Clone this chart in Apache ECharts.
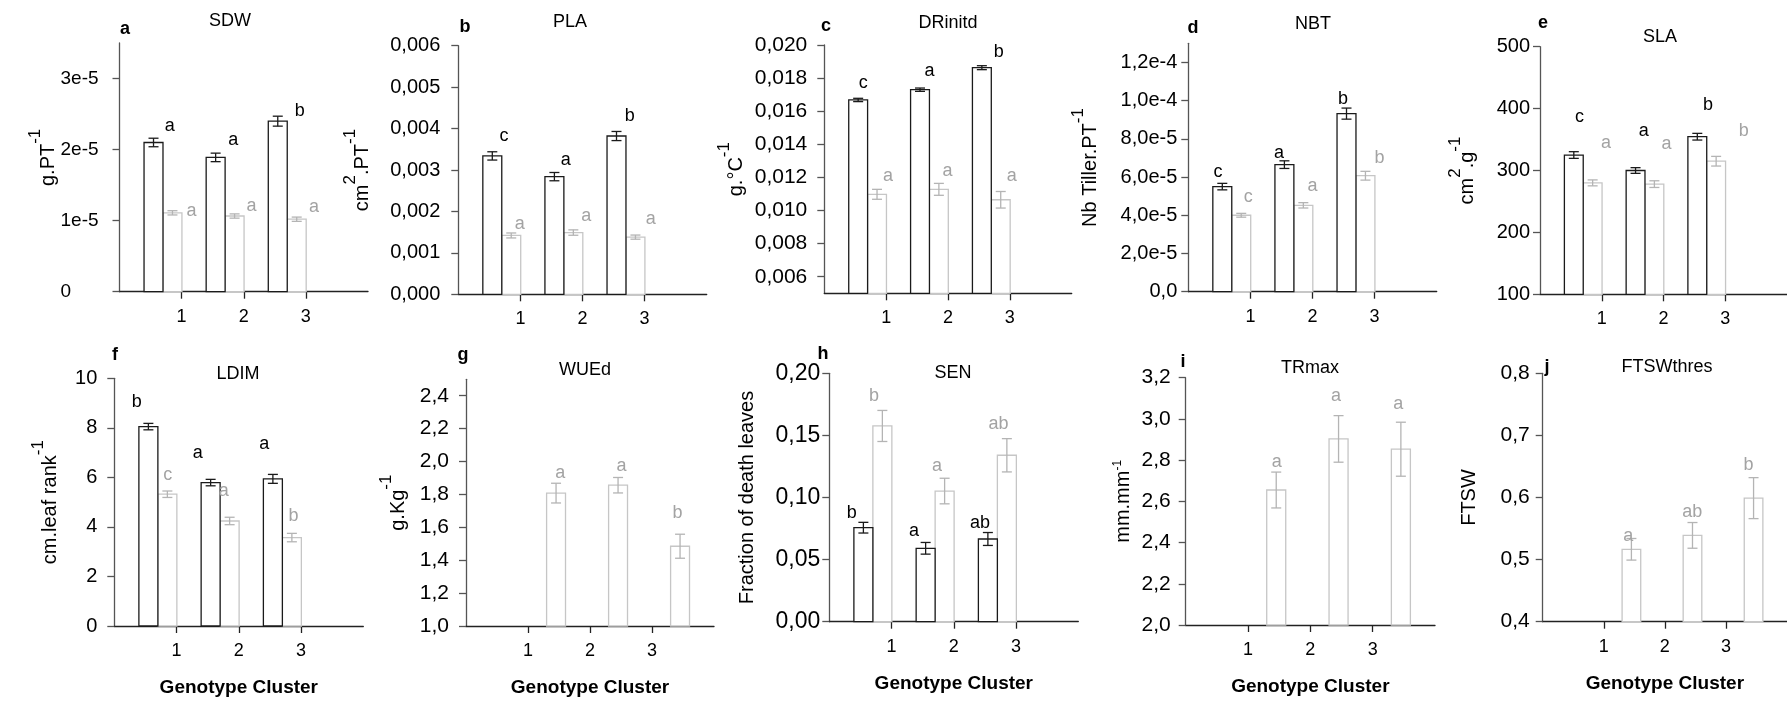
<!DOCTYPE html>
<html>
<head>
<meta charset="utf-8">
<script src="https://cdn.jsdelivr.net/npm/echarts@6/dist/echarts.min.js"></script>
<style>
  html, body { margin: 0; padding: 0; background: #fff; }
  #chart { width: 1787px; height: 702px; }
</style>
</head>
<body>
<div id="chart"></div>
<script>
// ---- Genotype clusters (x axis) ----
const clusters = [1, 2, 3];
const clusterLabels = ['1', '2', '3'];

// ---- a: SDW ----
const sdwDark = [2.10e-5, 1.89e-5, 2.40e-5];
const sdwDarkErr = [0.06e-5, 0.06e-5, 0.07e-5];
const sdwLight = [1.11e-5, 1.065e-5, 1.02e-5];
const sdwLightErr = [0.03e-5, 0.03e-5, 0.03e-5];
const sdwDarkLetters = ['a', 'a', 'b'];
const sdwLightLetters = ['a', 'a', 'a'];
const sdwTicks = [0, 1e-5, 2e-5, 3e-5];
const sdwTickLabels = ['0', '1e-5', '2e-5', '3e-5'];

// ---- b: PLA ----
const plaDark = [0.00334, 0.00284, 0.00382];
const plaDarkErr = [0.0001, 0.0001, 0.00011];
const plaLight = [0.00142, 0.00149, 0.00138];
const plaLightErr = [0.00006, 0.000065, 0.00005];
const plaDarkLetters = ['c', 'a', 'b'];
const plaLightLetters = ['a', 'a', 'a'];
const plaTicks = [0, 0.001, 0.002, 0.003, 0.004, 0.005, 0.006];
const plaTickLabels = ['0,000', '0,001', '0,002', '0,003', '0,004', '0,005', '0,006'];

// ---- c: DRinitd ----
const drDark = [0.01668, 0.0173, 0.01863];
const drDarkErr = [0.0001, 0.0001, 0.00012];
const drLight = [0.01098, 0.01128, 0.01065];
const drLightErr = [0.0003, 0.00036, 0.0005];
const drDarkLetters = ['c', 'a', 'b'];
const drLightLetters = ['a', 'a', 'a'];
const drTicks = [0.006, 0.008, 0.010, 0.012, 0.014, 0.016, 0.018, 0.020];
const drTickLabels = ['0,006', '0,008', '0,010', '0,012', '0,014', '0,016', '0,018', '0,020'];

// ---- d: NBT ----
const nbtDark = [5.5e-5, 6.65e-5, 9.32e-5];
const nbtDarkErr = [0.17e-5, 0.2e-5, 0.29e-5];
const nbtLight = [4.0e-5, 4.52e-5, 6.07e-5];
const nbtLightErr = [0.1e-5, 0.14e-5, 0.23e-5];
const nbtDarkLetters = ['c', 'a', 'b'];
const nbtLightLetters = ['c', 'a', 'b'];
const nbtTicks = [0, 2e-5, 4e-5, 6e-5, 8e-5, 1e-4, 1.2e-4];
const nbtTickLabels = ['0,0', '2,0e-5', '4,0e-5', '6,0e-5', '8,0e-5', '1,0e-4', '1,2e-4'];

// ---- e: SLA ----
const slaDark = [325, 300, 354.6];
const slaDarkErr = [5.4, 4.6, 5.4];
const slaLight = [280, 278, 315];
const slaLightErr = [4.8, 5.4, 7.8];
const slaDarkLetters = ['c', 'a', 'b'];
const slaLightLetters = ['a', 'a', 'b'];
const slaTicks = [100, 200, 300, 400, 500];
const slaTickLabels = ['100', '200', '300', '400', '500'];

// ---- f: LDIM ----
const ldimDark = [8.05, 5.79, 5.94];
const ldimDarkErr = [0.13, 0.13, 0.18];
const ldimLight = [5.32, 4.24, 3.57];
const ldimLightErr = [0.13, 0.15, 0.17];
const ldimDarkLetters = ['b', 'a', 'a'];
const ldimLightLetters = ['c', 'a', 'b'];
const ldimTicks = [0, 2, 4, 6, 8, 10];
const ldimTickLabels = ['0', '2', '4', '6', '8', '10'];

// ---- g: WUEd ----
const wueLight = [1.808, 1.856, 1.485];
const wueLightErr = [0.06, 0.047, 0.073];
const wueLightLetters = ['a', 'a', 'b'];
const wueTicks = [1.0, 1.2, 1.4, 1.6, 1.8, 2.0, 2.2, 2.4];
const wueTickLabels = ['1,0', '1,2', '1,4', '1,6', '1,8', '2,0', '2,2', '2,4'];

// ---- h: SEN ----
const senDark = [0.0757, 0.0591, 0.0666];
const senDarkErr = [0.0043, 0.0047, 0.0052];
const senLight = [0.1576, 0.1052, 0.134];
const senLightErr = [0.0125, 0.0103, 0.0134];
const senDarkLetters = ['b', 'a', 'ab'];
const senLightLetters = ['b', 'a', 'ab'];
const senTicks = [0, 0.05, 0.10, 0.15, 0.20];
const senTickLabels = ['0,00', '0,05', '0,10', '0,15', '0,20'];

// ---- i: TRmax ----
const trLight = [2.655, 2.903, 2.853];
const trLightErr = [0.087, 0.113, 0.131];
const trLightLetters = ['a', 'a', 'a'];
const trTicks = [2.0, 2.2, 2.4, 2.6, 2.8, 3.0, 3.2];
const trTickLabels = ['2,0', '2,2', '2,4', '2,6', '2,8', '3,0', '3,2'];

// ---- j: FTSWthres ----
const ftswLight = [0.5166, 0.539, 0.599];
const ftswLightErr = [0.0174, 0.0207, 0.033];
const ftswLightLetters = ['a', 'ab', 'b'];
const ftswTicks = [0.4, 0.5, 0.6, 0.7, 0.8];
const ftswTickLabels = ['0,4', '0,5', '0,6', '0,7', '0,8'];

// ---- annotation anchors for significance letters, [x, y] in axis units ----
const sdwDarkLetterAt = [[0.81, 2.33e-5], [1.83, 2.13e-5], [2.90, 2.54e-5]];
const sdwLightLetterAt = [[1.16, 1.14e-5], [2.125, 1.21e-5], [3.13, 1.195e-5]];
const plaDarkLetterAt = [[0.735, 0.00381], [1.73, 0.00324], [2.76, 0.00431]];
const plaLightLetterAt = [[0.99, 0.0017], [2.06, 0.00189], [3.10, 0.00182]];
const drDarkLetterAt = [[0.63, 0.01772], [1.70, 0.01843], [2.82, 0.0196]];
const drLightLetterAt = [[1.03, 0.0121], [1.99, 0.0124], [3.03, 0.0121]];
const nbtDarkLetterAt = [[0.48, 6.28e-5], [1.46, 7.25e-5], [2.49, 10.07e-5]];
const nbtLightLetterAt = [[0.965, 4.97e-5], [2.0, 5.53e-5], [3.08, 6.98e-5]];
const slaDarkLetterAt = [[0.64, 387], [1.68, 364], [2.72, 406]];
const slaLightLetterAt = [[1.07, 345], [2.05, 343], [3.30, 364]];
const ldimDarkLetterAt = [[0.36, 9.06], [1.34, 7.0], [2.41, 7.35]];
const ldimLightLetterAt = [[0.86, 6.1], [1.76, 5.43], [2.88, 4.44]];
const wueLightLetterAt = [[1.52, 1.93], [2.51, 1.97], [3.41, 1.685]];
const senDarkLetterAt = [[0.36, 0.0878], [1.36, 0.0733], [2.42, 0.0792]];
const senLightLetterAt = [[0.72, 0.1817], [1.73, 0.1254], [2.72, 0.159]];
const trLightLetterAt = [[1.46, 2.79], [2.41, 3.11], [3.41, 3.07]];
const ftswLightLetterAt = [[1.40, 0.538], [2.45, 0.576], [3.37, 0.652]];

// ---- styling ----
const FONT = '"Liberation Sans", Arial, Helvetica, sans-serif';
const DARK = '#1a1a1a';
const LIGHT_BAR = '#c6c6c6';
const LIGHT_ERR = '#b4b4b4';
const LIGHT_TEXT = '#a3a3a3';
const Y_AXIS = '#555';
const X_AXIS = '#222';

// Bar extents relative to each cluster tick, in axis units
const PAIR_DARK = [-0.605, -0.3];
const PAIR_LIGHT = [-0.3, 0.005];
const SINGLE_LIGHT = [0.30, 0.605];

// Axis-title rich text: m = main run, s = raised exponent, t = small raised exponent
const supRich = {
  m: { fontSize: 20, fontFamily: FONT, color: '#000', verticalAlign: 'bottom' },
  s: { fontSize: 17, fontFamily: FONT, color: '#000', verticalAlign: 'top', padding: [0, 0, 14, 0] },
  t: { fontSize: 12, fontFamily: FONT, color: '#000', verticalAlign: 'top', padding: [0, 0, 10, 0] }
};

const panels = [
  { tag: 'a', title: 'SDW', yName: '{m|g.PT}{s|-1}', nameGap: 77, nameShift: 20,
    grid: { left: 119.5, top: 43, width: 248.5, height: 248.7 }, yMin: 0, yMax: 3.5e-5,
    labelMargin: 59, labelAlign: 'left', labelSize: 19,
    ticks: sdwTicks, tickLabels: sdwTickLabels,
    dark: sdwDark, darkErr: sdwDarkErr, light: sdwLight, lightErr: sdwLightErr,
    darkLetters: sdwDarkLetters, lightLetters: sdwLightLetters,
    darkLetterAt: sdwDarkLetterAt, lightLetterAt: sdwLightLetterAt,
    tagAt: [125, 29], titleAt: [230, 21] },
  { tag: 'b', title: 'PLA', yName: '{m|cm}{s|2}{m|.PT}{s|-1}', nameGap: 101,
    grid: { left: 458.3, top: 45.7, width: 248.4, height: 248.6 }, yMin: 0, yMax: 0.006,
    labelMargin: 18, labelSize: 20,
    ticks: plaTicks, tickLabels: plaTickLabels,
    dark: plaDark, darkErr: plaDarkErr, light: plaLight, lightErr: plaLightErr,
    darkLetters: plaDarkLetters, lightLetters: plaLightLetters,
    darkLetterAt: plaDarkLetterAt, lightLetterAt: plaLightLetterAt,
    tagAt: [465, 27], titleAt: [570, 22] },
  { tag: 'c', title: 'DRinitd', yName: '{m|g.°C}{s|-1}', nameGap: 93,
    grid: { left: 824.3, top: 45, width: 247.4, height: 248.3 }, yMin: 0.005, yMax: 0.020,
    labelMargin: 17, labelSize: 21,
    ticks: drTicks, tickLabels: drTickLabels,
    dark: drDark, darkErr: drDarkErr, light: drLight, lightErr: drLightErr,
    darkLetters: drDarkLetters, lightLetters: drLightLetters,
    darkLetterAt: drDarkLetterAt, lightLetterAt: drLightLetterAt,
    tagAt: [826, 26], titleAt: [948, 23] },
  { tag: 'd', title: 'NBT', yName: '{m|Nb Tiller.PT}{s|-1}', nameGap: 103,
    grid: { left: 1188.3, top: 43.3, width: 248.4, height: 248.4 }, yMin: 0, yMax: 1.3e-4,
    labelMargin: 11, labelSize: 20,
    ticks: nbtTicks, tickLabels: nbtTickLabels,
    dark: nbtDark, darkErr: nbtDarkErr, light: nbtLight, lightErr: nbtLightErr,
    darkLetters: nbtDarkLetters, lightLetters: nbtLightLetters,
    darkLetterAt: nbtDarkLetterAt, lightLetterAt: nbtLightLetterAt,
    tagAt: [1193, 28], titleAt: [1313, 24] },
  { tag: 'e', title: 'SLA', yName: '{m|cm}{s|2}{m|.g}{s|-1}', nameGap: 78,
    grid: { left: 1540, top: 46.7, width: 248, height: 247.6 }, yMin: 100, yMax: 500,
    labelMargin: 10, labelSize: 20,
    ticks: slaTicks, tickLabels: slaTickLabels,
    dark: slaDark, darkErr: slaDarkErr, light: slaLight, lightErr: slaLightErr,
    darkLetters: slaDarkLetters, lightLetters: slaLightLetters,
    darkLetterAt: slaDarkLetterAt, lightLetterAt: slaLightLetterAt,
    tagAt: [1543, 23], titleAt: [1660, 37] },
  { tag: 'f', title: 'LDIM', yName: '{m|cm.leaf rank}{s|-1}', nameGap: 69, xName: true,
    grid: { left: 114.3, top: 378.3, width: 249, height: 247.7 }, yMin: 0, yMax: 10,
    labelMargin: 17, labelSize: 20,
    ticks: ldimTicks, tickLabels: ldimTickLabels,
    dark: ldimDark, darkErr: ldimDarkErr, light: ldimLight, lightErr: ldimLightErr,
    darkLetters: ldimDarkLetters, lightLetters: ldimLightLetters,
    darkLetterAt: ldimDarkLetterAt, lightLetterAt: ldimLightLetterAt,
    tagAt: [115, 355], titleAt: [238, 374] },
  { tag: 'g', title: 'WUEd', yName: '{m|g.Kg}{s|-1}', nameGap: 73, xName: true,
    grid: { left: 466, top: 379.3, width: 248, height: 246.7 }, yMin: 1.0, yMax: 2.5,
    labelMargin: 17, labelSize: 21,
    ticks: wueTicks, tickLabels: wueTickLabels,
    light: wueLight, lightErr: wueLightErr,
    lightLetters: wueLightLetters, lightLetterAt: wueLightLetterAt,
    tagAt: [463, 355], titleAt: [585, 370] },
  { tag: 'h', title: 'SEN', yName: '{m|Fraction of death leaves}', nameGap: 82, xName: true,
    grid: { left: 829.3, top: 373.3, width: 249, height: 248.4 }, yMin: 0, yMax: 0.20,
    labelMargin: 9, labelSize: 23,
    ticks: senTicks, tickLabels: senTickLabels,
    dark: senDark, darkErr: senDarkErr, light: senLight, lightErr: senLightErr,
    darkLetters: senDarkLetters, lightLetters: senLightLetters,
    darkLetterAt: senDarkLetterAt, lightLetterAt: senLightLetterAt,
    tagAt: [823, 354], titleAt: [953, 373] },
  { tag: 'i', title: 'TRmax', yName: '{m|mm.mm}{t|-1}', nameGap: 63, xName: true,
    grid: { left: 1185.7, top: 377.7, width: 249.3, height: 247.3 }, yMin: 2.0, yMax: 3.2,
    labelMargin: 15, labelSize: 21,
    ticks: trTicks, tickLabels: trTickLabels,
    light: trLight, lightErr: trLightErr,
    lightLetters: trLightLetters, lightLetterAt: trLightLetterAt,
    tagAt: [1183, 362], titleAt: [1310, 368] },
  { tag: 'j', title: 'FTSWthres', yName: '{m|FTSW}', nameGap: 73, xName: true,
    grid: { left: 1542.7, top: 373.3, width: 249, height: 248.4 }, yMin: 0.4, yMax: 0.8,
    labelMargin: 13, labelSize: 21,
    ticks: ftswTicks, tickLabels: ftswTickLabels,
    light: ftswLight, lightErr: ftswLightErr,
    lightLetters: ftswLightLetters, lightLetterAt: ftswLightLetterAt,
    tagAt: [1547, 367], titleAt: [1667, 367] }
];

function tickFormatter(ticks, labels) {
  return function (v) {
    for (let k = 0; k < ticks.length; k++) {
      if (Math.abs(ticks[k] - v) <= Math.abs(ticks[k]) * 1e-6 + 1e-12) return labels[k];
    }
    return '';
  };
}

// Open rectangle bar with a symmetric capped error bar
function barRenderer(span, yMin, stroke, errColor) {
  return function (params, api) {
    const c = api.value(0), v = api.value(1), e = api.value(2);
    const p0 = api.coord([c + span[0], yMin]);
    const p1 = api.coord([c + span[1], v]);
    const mid = c + (span[0] + span[1]) / 2;
    const hi = api.coord([mid, v + e]);
    const lo = api.coord([mid, v - e]);
    const cap = 5;
    return {
      type: 'group',
      children: [
        { type: 'rect',
          shape: { x: p0[0], y: p1[1], width: p1[0] - p0[0], height: p0[1] - p1[1] },
          style: { fill: '#fff', stroke: stroke, lineWidth: 1.3 } },
        { type: 'line', shape: { x1: hi[0], y1: hi[1], x2: lo[0], y2: lo[1] },
          style: { stroke: errColor, lineWidth: 1.3 } },
        { type: 'line', shape: { x1: hi[0] - cap, y1: hi[1], x2: hi[0] + cap, y2: hi[1] },
          style: { stroke: errColor, lineWidth: 1.3 } },
        { type: 'line', shape: { x1: lo[0] - cap, y1: lo[1], x2: lo[0] + cap, y2: lo[1] },
          style: { stroke: errColor, lineWidth: 1.3 } }
      ]
    };
  };
}

function letterRenderer(letters, color) {
  return function (params, api) {
    const p = api.coord([api.value(0), api.value(1)]);
    return {
      type: 'text', x: p[0], y: p[1],
      style: { text: letters[params.dataIndex], fill: color, font: '18px ' + FONT,
               align: 'center', verticalAlign: 'middle' }
    };
  };
}

const grids = [], xAxes = [], yAxes = [], series = [], graphics = [];

panels.forEach(function (p, i) {
  grids.push(Object.assign({ containLabel: false }, p.grid));

  xAxes.push({
    type: 'value', gridIndex: i, min: 0, max: 4,
    name: p.xName ? 'Genotype Cluster' : '',
    nameLocation: 'middle', nameGap: 62,
    nameTextStyle: { fontFamily: FONT, fontSize: 19, fontWeight: 'bold', color: '#000', verticalAlign: 'middle' },
    axisLine: { onZero: false, lineStyle: { color: X_AXIS, width: 1.3 } },
    axisTick: { show: true, length: 7, customValues: clusters, lineStyle: { color: X_AXIS, width: 1.3 } },
    axisLabel: { customValues: clusters, formatter: tickFormatter(clusters, clusterLabels),
                 fontFamily: FONT, fontSize: 18, color: '#000', margin: 16 },
    splitLine: { show: false }
  });

  yAxes.push({
    type: 'value', gridIndex: i, min: p.yMin, max: p.yMax,
    name: p.yName, nameLocation: 'middle', nameGap: p.nameGap, nameRotate: 90,
    nameMoveOverlap: false,
    nameTextStyle: { fontFamily: FONT, fontSize: 20, color: '#000', verticalAlign: 'middle', rich: supRich,
                     padding: [0, 0, 0, p.nameShift || 0] },
    axisLine: { onZero: false, lineStyle: { color: Y_AXIS, width: 1.3 } },
    axisTick: { show: true, length: 7, customValues: p.ticks, lineStyle: { color: Y_AXIS, width: 1.3 } },
    axisLabel: { customValues: p.ticks, formatter: tickFormatter(p.ticks, p.tickLabels),
                 align: p.labelAlign || 'right',
                 fontFamily: FONT, fontSize: p.labelSize, color: '#000', margin: p.labelMargin },
    splitLine: { show: false }
  });

  const lightSpan = p.dark ? PAIR_LIGHT : SINGLE_LIGHT;
  series.push({
    type: 'custom', xAxisIndex: i, yAxisIndex: i, silent: true, z: 2,
    data: clusters.map(function (c, k) { return [c, p.light[k], p.lightErr[k]]; }),
    renderItem: barRenderer(lightSpan, p.yMin, LIGHT_BAR, LIGHT_ERR)
  });
  if (p.dark) {
    series.push({
      type: 'custom', xAxisIndex: i, yAxisIndex: i, silent: true, z: 3,
      data: clusters.map(function (c, k) { return [c, p.dark[k], p.darkErr[k]]; }),
      renderItem: barRenderer(PAIR_DARK, p.yMin, DARK, DARK)
    });
    series.push({
      type: 'custom', xAxisIndex: i, yAxisIndex: i, silent: true, z: 4,
      data: p.darkLetterAt,
      renderItem: letterRenderer(p.darkLetters, '#000')
    });
  }
  series.push({
    type: 'custom', xAxisIndex: i, yAxisIndex: i, silent: true, z: 4,
    data: p.lightLetterAt,
    renderItem: letterRenderer(p.lightLetters, LIGHT_TEXT)
  });

  graphics.push({
    type: 'text', x: p.titleAt[0], y: p.titleAt[1],
    style: { text: p.title, font: '18px ' + FONT, fill: '#000', align: 'center', verticalAlign: 'middle' }
  });
  graphics.push({
    type: 'text', x: p.tagAt[0], y: p.tagAt[1],
    style: { text: p.tag, font: 'bold 18px ' + FONT, fill: '#000', align: 'center', verticalAlign: 'middle' }
  });
});

const chart = echarts.init(document.getElementById('chart'), null, { renderer: 'canvas' });
chart.setOption({
  backgroundColor: '#fff',
  animation: false,
  grid: grids,
  xAxis: xAxes,
  yAxis: yAxes,
  series: series,
  graphic: graphics
});
</script>
</body>
</html>
